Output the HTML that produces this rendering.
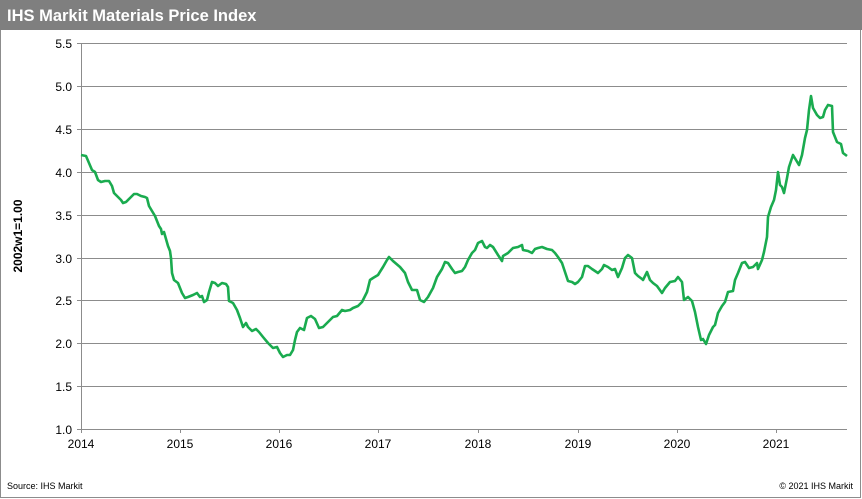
<!DOCTYPE html>
<html><head><meta charset="utf-8"><style>
html,body{margin:0;padding:0;background:#fff}
svg{display:block;font-family:"Liberation Sans",Arial,sans-serif}
</style></head><body>
<svg width="862" height="499" viewBox="0 0 862 499" xmlns="http://www.w3.org/2000/svg">
<rect x="0.5" y="0.5" width="860" height="497" fill="#fff" stroke="#8c8c8c"/>
<rect x="0" y="0" width="862" height="30" fill="#7f7f7f"/>
<text x="7" y="21" font-size="16.5" font-weight="bold" fill="#fff">IHS Markit Materials Price Index</text>
<g stroke="#8c8c8c" stroke-width="1">
<line x1="77" y1="43.5" x2="847" y2="43.5"/>
<line x1="77" y1="86.5" x2="847" y2="86.5"/>
<line x1="77" y1="129.5" x2="847" y2="129.5"/>
<line x1="77" y1="172.5" x2="847" y2="172.5"/>
<line x1="77" y1="215.5" x2="847" y2="215.5"/>
<line x1="77" y1="258.5" x2="847" y2="258.5"/>
<line x1="77" y1="300.5" x2="847" y2="300.5"/>
<line x1="77" y1="343.5" x2="847" y2="343.5"/>
<line x1="77" y1="386.5" x2="847" y2="386.5"/>
<line x1="77" y1="429.5" x2="847" y2="429.5"/>
<line x1="81.5" y1="43" x2="81.5" y2="429"/>
<line x1="81.5" y1="429" x2="81.5" y2="433"/>
<line x1="180.5" y1="429" x2="180.5" y2="433"/>
<line x1="279.5" y1="429" x2="279.5" y2="433"/>
<line x1="378.5" y1="429" x2="378.5" y2="433"/>
<line x1="478.5" y1="429" x2="478.5" y2="433"/>
<line x1="578.5" y1="429" x2="578.5" y2="433"/>
<line x1="677.5" y1="429" x2="677.5" y2="433"/>
<line x1="776.5" y1="429" x2="776.5" y2="433"/>
</g>
<g font-size="12" fill="#000" text-anchor="end">
<text x="72" y="48">5.5</text><text x="72" y="91">5.0</text><text x="72" y="134">4.5</text>
<text x="72" y="177">4.0</text><text x="72" y="220">3.5</text><text x="72" y="263">3.0</text>
<text x="72" y="305">2.5</text><text x="72" y="348">2.0</text><text x="72" y="391">1.5</text>
<text x="72" y="434">1.0</text>
</g>
<g font-size="12" fill="#000" text-anchor="middle">
<text x="81" y="448">2014</text><text x="180" y="448">2015</text><text x="279" y="448">2016</text>
<text x="378" y="448">2017</text><text x="478" y="448">2018</text><text x="578" y="448">2019</text>
<text x="677" y="448">2020</text><text x="776" y="448">2021</text>
</g>
<text transform="translate(22,236) rotate(-90)" font-size="12" font-weight="bold" text-anchor="middle">2002w1=1.00</text>
<text x="7" y="489" font-size="9">Source:  IHS Markit</text>
<text x="853" y="489" font-size="9" text-anchor="end">© 2021  IHS Markit</text>
<polyline fill="none" stroke="#1aab4f" stroke-width="2.6" stroke-linejoin="round" points="81,155 86,156 89,163 92,170 95,172 98,180 101,182 105,181 109,181 112,186 114,193 117,196 121,200 123,203 126,202 130,198 134,194 137,194 141,196 145,197 147,198 149,206 152,211 155,216 157,221 159,226 161,229 162,234 164,232 166,239 168,246 170,251 171,258 172,273 174,280 178,283 182,293 185,298 188,297 193,295 197,293 200,297 202,296 204,302 207,300 209,292 212,282 215,283 218,286 222,283 226,284 228,287 229,301 233,303 237,310 240,318 243,327 246,323 248,327 252,331 256,329 259,332 263,337 268,343 273,348 277,347 280,353 283,357 287,355 290,355 293,350 295,340 297,332 300,328 304,330 307,318 311,316 315,319 319,328 323,327 328,322 333,317 337,316 342,310 345,311 350,310 353,308 358,306 362,302 367,292 370,280 373,278 378,275 383,267 387,260 389,257 393,261 400,267 405,273 408,282 412,290 417,290 420,300 424,302 428,297 433,288 437,277 442,269 445,262 448,263 452,269 455,273 458,272 462,271 465,267 468,260 472,253 475,250 478,243 482,241 485,247 487,248 490,245 493,247 498,255 502,261 503,256 508,253 513,248 518,247 522,245 523,250 528,251 532,253 535,249 538,248 542,247 547,249 552,250 555,253 558,257 562,263 565,272 568,281 572,282 575,284 578,282 582,277 585,266 588,266 592,269 595,271 598,273 602,269 604,265 608,267 612,270 615,269 618,277 622,268 625,258 628,255 632,258 635,273 638,276 642,279 643,280 647,272 650,280 653,283 657,286 662,293 665,288 670,282 675,281 678,277 682,282 684,300 688,297 692,301 695,312 698,327 701,340 703,339 706,344 709,335 713,327 715,325 718,313 722,306 725,302 728,292 733,291 735,280 738,273 742,263 745,262 749,268 753,267 757,263 758,269 762,260 764,252 767,237 768,217 771,207 774,200 776,190 778,172 780,185 782,187 784,193 787,178 789,167 793,155 796,160 799,165 802,155 805,138 807,130 809,110 811,96 813,108 817,115 820,118 823,117 825,110 828,105 832,106 833,132 837,142 841,144 843,153 847,156"/>
</svg>
</body></html>
